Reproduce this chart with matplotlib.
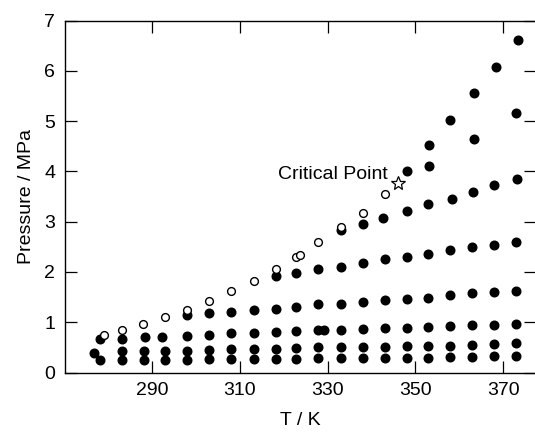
import matplotlib
matplotlib.use("Agg")
import matplotlib.pyplot as plt

plt.rcParams['font.family'] = ['Liberation Sans', 'DejaVu Sans']

# ---- data ----
# isochores (filled circles), one list per row
iso_T = [
    [278.2, 283.2, 288.1, 292.9, 298.1, 303.1, 308.0, 313.2, 318.2, 322.9, 327.9,
     333.0, 338.0, 343.0, 348.0, 353.0, 358.0, 363.0, 368.0, 373.0],
    [276.8, 283.2, 288.1, 292.9, 298.1, 303.1, 308.0, 313.2, 318.2, 322.9, 327.9,
     333.0, 338.0, 343.0, 348.0, 353.0, 358.0, 363.0, 368.0, 373.0],
    [278.2, 283.2, 288.5, 292.3, 298.1, 303.1, 308.0, 313.2, 318.2, 322.9, 327.9,
     329.3, 333.0, 338.0, 343.0, 348.0, 353.0, 358.0, 363.0, 368.0, 373.0],
    [298.1, 303.1, 308.0, 313.2, 318.2, 322.9, 327.9, 333.0, 338.0, 343.0, 348.0,
     353.0, 358.0, 363.0, 368.0, 373.0],
    [318.2, 322.9, 327.9, 333.0, 338.0, 343.0, 348.0, 353.0, 358.0, 363.0, 368.0, 373.0],
    [333.0, 338.0, 342.7, 348.0, 352.9, 358.3, 363.2, 368.0, 373.2],
    [353.1, 363.3, 373.0],
    [348.0, 353.1, 358.0, 363.3, 368.4, 373.5],
]
iso_P = [
    [0.245, 0.245, 0.245, 0.245, 0.25, 0.26, 0.26, 0.26, 0.27, 0.275, 0.28,
     0.28, 0.28, 0.285, 0.285, 0.29, 0.30, 0.31, 0.32, 0.33],
    [0.39, 0.42, 0.42, 0.42, 0.42, 0.44, 0.46, 0.46, 0.47, 0.48, 0.50,
     0.51, 0.51, 0.51, 0.52, 0.53, 0.53, 0.54, 0.56, 0.58],
    [0.67, 0.67, 0.70, 0.70, 0.72, 0.74, 0.78, 0.79, 0.80, 0.82, 0.84,
     0.84, 0.84, 0.86, 0.88, 0.89, 0.91, 0.92, 0.94, 0.95, 0.97],
    [1.14, 1.19, 1.21, 1.25, 1.27, 1.31, 1.36, 1.37, 1.41, 1.45, 1.47,
     1.49, 1.54, 1.58, 1.60, 1.63],
    [1.92, 1.97, 2.05, 2.09, 2.18, 2.25, 2.30, 2.36, 2.44, 2.49, 2.54, 2.60],
    [2.83, 2.96, 3.07, 3.21, 3.35, 3.46, 3.59, 3.72, 3.84],
    [4.11, 4.64, 5.16],
    [4.00, 4.52, 5.03, 5.56, 6.07, 6.62],
]

# saturated vapour pressure (open circles)
sat_T = [279.1, 283.2, 288.0, 293.0, 298.1, 303.1, 308.0, 313.2, 318.2, 322.9,
         323.7, 327.9, 333.1, 338.0, 343.2]
sat_P = [0.74, 0.84, 0.97, 1.10, 1.25, 1.43, 1.63, 1.82, 2.05, 2.30,
         2.34, 2.60, 2.89, 3.18, 3.55]

crit_T = 346.0
crit_P = 3.765

x_ticks = [290, 310, 330, 350, 370]
y_ticks = [0, 1, 2, 3, 4, 5, 6, 7]

# ---- figure ----
fig = plt.figure(figsize=(5.35, 4.33), dpi=100)
ax = fig.add_axes([0.1215, 0.1397, 0.8804, 0.8129])

for T, P in zip(iso_T, iso_P):
    ax.plot(T, P, 'o', color='black', markersize=6.2, linestyle='none')

ax.plot(sat_T, sat_P, 'o', markerfacecolor='white', markeredgecolor='black',
        markersize=5.6, markeredgewidth=1.0, linestyle='none')

ax.plot([crit_T], [crit_P], '*', markerfacecolor='white', markeredgecolor='black',
        markersize=10.5, markeredgewidth=0.9, linestyle='none')
ax.annotate("Critical Point", xy=(crit_T, crit_P), xytext=(-7, 6),
            textcoords='offset points', ha='right', va='center', fontsize=14)

ax.set_xlim(270.2, 377.5)
ax.set_ylim(0, 7)
ax.set_xticks(x_ticks)
ax.set_yticks(y_ticks)
ax.tick_params(direction='in', length=8.5, width=0.9, top=True, right=True,
               labelsize=14, pad=7)
for s in ax.spines.values():
    s.set_linewidth(1.0)

ax.set_xlabel("T / K", fontsize=14, labelpad=9)
ax.set_ylabel("Pressure / MPa", fontsize=14, labelpad=7)

fig.savefig("out.png", dpi=100)
